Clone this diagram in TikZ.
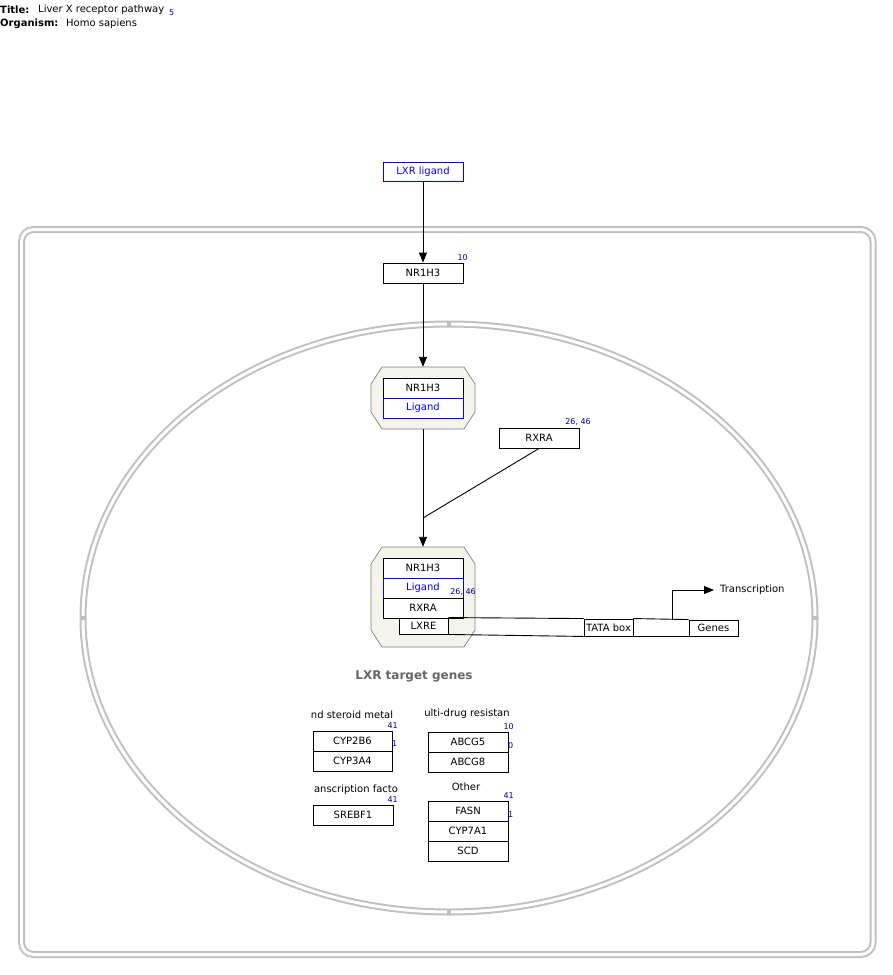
\documentclass[tikz,border=0pt]{standalone}
\usepackage{fontspec}
\setmainfont{DejaVu Sans}
\usetikzlibrary{arrows.meta}
\definecolor{compgray}{HTML}{C0C0C0}
\definecolor{cplxfill}{HTML}{F4F4EC}
\definecolor{cplxline}{HTML}{808080}
\definecolor{refblue}{HTML}{000099}
\definecolor{ligblue}{HTML}{0000FF}
\begin{document}
\begin{tikzpicture}[x=1pt,y=-1pt,
  txt/.style={font=\fontsize{10}{12}\selectfont},
  gene/.style={draw=black, line width=0.9pt, fill=white, minimum width=80pt, minimum height=20pt, inner sep=0pt, txt},
  ligbox/.style={gene, draw=ligblue, text=ligblue},
  ref/.style={font=\fontsize{8}{9}\selectfont, text=refblue, inner sep=0pt},
  grp/.style={txt, inner sep=0pt},
  arr/.style={-{Triangle[length=10pt,width=8pt]}, line width=0.9pt},
  conn/.style={line width=0.9pt},
  wall/.style={draw=compgray, line width=2pt, double=white, double distance=3pt},
  cplx/.style={draw=cplxline, fill=cplxfill, line width=0.7pt}
]
\useasboundingbox (0,0) rectangle (892,975);

% header
\node[anchor=west, inner sep=0pt, font=\fontsize{10}{12}\selectfont\bfseries] (tl) at (0,10) {Title:};
\node[anchor=west, inner sep=0pt, txt] (tv) at (38,10) {Liver X receptor pathway};
\node[anchor=west, ref] (tr) at (169,13) {5};
\node[anchor=west, inner sep=0pt, font=\fontsize{10}{12}\selectfont\bfseries] (ol) at (0,24) {Organism:};
\node[anchor=west, inner sep=0pt, txt] (ov) at (66,24) {Homo sapiens};

% cell and nucleus compartments
\draw[wall, rounded corners=12pt] (21.5,229.5) rectangle (873,954.5);
\draw[wall] (449,618) ellipse [x radius=366, y radius=294];
\foreach \p in {(449,324),(449,912),(83,618),(815,618)}
  \fill[compgray] \p ++(-2,-2) rectangle ++(4,4);

% ligand and receptor
\node[ligbox, minimum height=19pt] (lig) at (423,171.5) {LXR ligand};
\node[gene] (nr1) at (423,273) {NR1H3};
\node[ref, anchor=south east] (nr1r) at (468,261) {10};

% complex NR1H3 + ligand
\draw[cplx] (382,367) -- (464,367) -- (475,384) -- (475,412) -- (464,429) -- (382,429) -- (371,412) -- (371,384) -- cycle;
\node[draw=none, minimum width=104pt, minimum height=62pt, inner sep=0pt] (cx1) at (423,398) {};
\node[gene] (c1a) at (423,388) {NR1H3};
\node[ligbox] (c1b) at (423,408) {Ligand};

% RXRA
\node[gene] (rxra) at (539,438) {RXRA};
\node[ref, anchor=south east] (rxrar) at (591,426) {26, 46};

% complex NR1H3 + ligand + RXRA on LXRE
\draw[cplx] (382,547) -- (464,547) -- (475,564) -- (475,630) -- (464,647) -- (382,647) -- (371,630) -- (371,564) -- cycle;
\node[draw=none, minimum width=104pt, minimum height=100pt, inner sep=0pt] (cx2) at (423,597) {};
\node[gene] (c2a) at (423,568) {NR1H3};
\node[ligbox] (c2b) at (423,588) {Ligand};
\node[gene] (c2c) at (423,608) {RXRA};
\node[ref, anchor=south east] (c2r) at (476,596) {26, 46};

% promoter region
\node[gene, minimum width=49pt, minimum height=16pt] (lxre) at (423.5,626) {LXRE};
\node[gene, minimum width=49pt, minimum height=17pt] (tata) at (608.5,627.5) {TATA box};
\node[gene, minimum width=49pt, minimum height=16pt] (genes) at (713.5,628) {Genes};
\draw[conn] (lxre.north east) -- (tata.north west);
\draw[conn] (lxre.south east) -- (tata.south west);
\draw[conn] (tata.north east) -- (genes.north west);
\draw[conn] (tata.south east) -- (genes.south west);
\coordinate (tss) at (672,620);
\node[anchor=west, inner sep=0pt, txt] (trans) at (720,590) {Transcription};
\draw[arr] (tss) |- ([xshift=-6pt]trans.west);

% interactions
\draw[arr] (lig.south) -- (nr1.north);
\draw[arr] (nr1.south) -- (cx1.north);
\coordinate (jn) at (423,518);
\draw[arr] (cx1.south) -- (cx2.north);
\draw[conn] (rxra.south) -- (jn);

% target genes
\node[inner sep=0pt, text=black!60, font=\fontsize{12}{14}\selectfont\bfseries] (tg) at (414,676) {LXR target genes};

\node[grp] (g1l) at (352,715) {nd steroid metal};
\node[gene, minimum width=79pt] (cyp2b6) at (352.5,741) {CYP2B6};
\node[gene, minimum width=79pt] (cyp3a4) at (352.5,761) {CYP3A4};
\node[ref, anchor=south east] (g1r1) at (398,729) {41};
\node[ref, anchor=west] (g1r2) at (392,744) {1};

\node[grp] (g2l) at (467,714) {ulti-drug resistan};
\node[gene] (abcg5) at (468,742) {ABCG5};
\node[gene] (abcg8) at (468,762) {ABCG8};
\node[ref, anchor=south east] (g2r1) at (514,730) {10};
\node[ref, anchor=west] (g2r2) at (508,746) {0};

\node[grp] (g3l) at (356,790) {anscription facto};
\node[gene] (srebf1) at (353,815) {SREBF1};
\node[ref, anchor=south east] (g3r1) at (398,803) {41};

\node[grp] (g4l) at (466,787) {Other};
\node[gene] (fasn) at (468,811) {FASN};
\node[gene] (cyp7a1) at (468,831) {CYP7A1};
\node[gene] (scd) at (468,851) {SCD};
\node[ref, anchor=south east] (g4r1) at (514,799) {41};
\node[ref, anchor=west] (g4r2) at (508,815) {1};
\end{tikzpicture}
\end{document}
